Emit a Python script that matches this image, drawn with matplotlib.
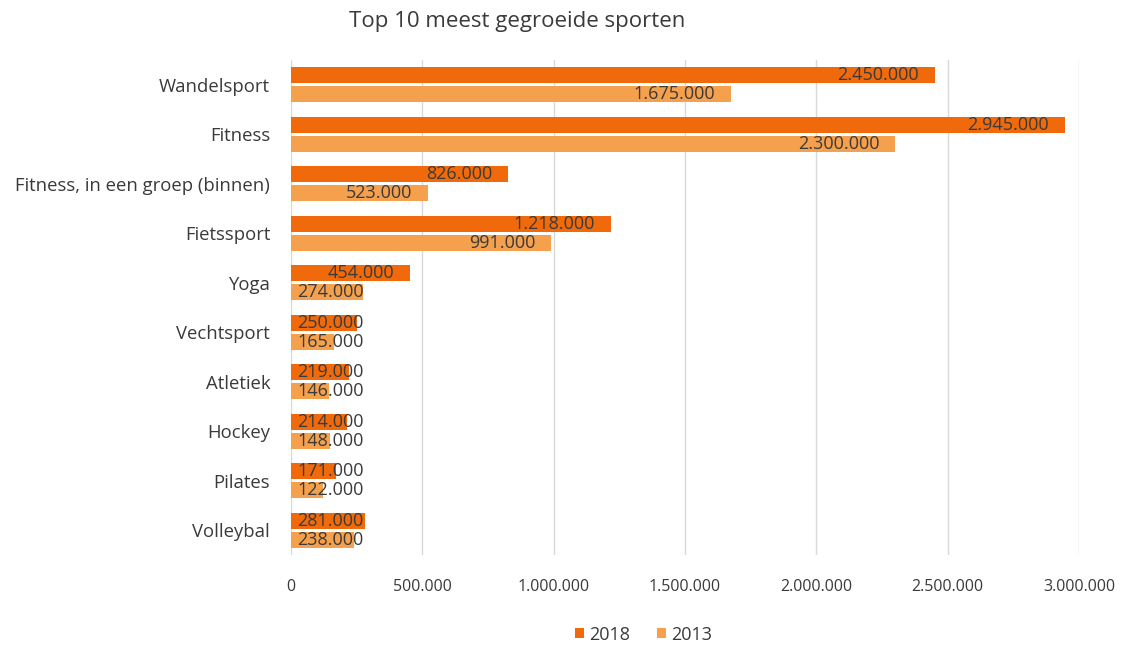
import matplotlib.pyplot as plt
import numpy as np

categories = ["Wandelsport", "Fitness", "Fitness, in een groep (binnen)", "Fietssport",
              "Yoga", "Vechtsport", "Atletiek", "Hockey", "Pilates", "Volleybal"]
v2018 = [2450000, 2945000, 826000, 1218000, 454000, 250000, 219000, 214000, 171000, 281000]
v2013 = [1675000, 2300000, 523000, 991000, 274000, 165000, 146000, 148000, 122000, 238000]
xticks = [0, 500000, 1000000, 1500000, 2000000, 2500000, 3000000]

c2018 = "#F06A0C"
c2013 = "#F5A04C"
txt = "#3A3A3A"
font = "Open Sans"


def fmt(v):
    return f"{v:,}".replace(",", ".")


fig = plt.figure(figsize=(11.25, 6.45), dpi=100)
ax = fig.add_axes([0.2587, 0.1395, 0.7004, 0.7675])

y = np.arange(len(categories))
h = 0.32
ax.barh(y - 0.19, v2018, height=h, color=c2018, label="2018", zorder=2)
ax.barh(y + 0.19, v2013, height=h, color=c2013, label="2013", zorder=2)

ax.set_xlim(0, 3000000)
ax.set_ylim(len(categories) - 0.5, -0.5)
ax.set_xticks(xticks)
ax.set_xticklabels([fmt(t) for t in xticks], fontsize=11.5, color=txt, family=font)
ax.set_yticks(y)
ax.set_yticklabels(categories, fontsize=13.3, color=txt, family=font)
ax.tick_params(axis="x", length=0, pad=17)
ax.tick_params(axis="y", length=0, pad=15)
ax.grid(axis="x", color="#D9D9D9", linewidth=1, zorder=0)
for s in ax.spines.values():
    s.set_visible(False)

# data labels: inside end, pushed right if they do not fit
fig.canvas.draw()
r = fig.canvas.get_renderer()
px_per_unit = ax.transData.transform((1, 0))[0] - ax.transData.transform((0, 0))[0]
pad = 16 / px_per_unit
for vals, off in ((v2018, -0.19), (v2013, 0.19)):
    for i, v in enumerate(vals):
        t = ax.text(v - pad, i + off, fmt(v), ha="right", va="center",
                    fontsize=13, color=txt, family=font, zorder=3)
        w = t.get_window_extent(renderer=r).width / px_per_unit
        if v - pad - w < 6 / px_per_unit:
            t.set_x(6 / px_per_unit)
            t.set_ha("left")

fig.text(0.46, 0.966, "Top 10 meest gegroeide sporten", ha="center", va="center",
         fontsize=16, color=txt, family=font)
fig.legend(loc="center", bbox_to_anchor=(0.572, 0.016), ncol=2, frameon=False,
           prop={"family": font, "size": 13}, handlelength=0.5, handleheight=0.5,
           columnspacing=1.5, handletextpad=0.3, labelcolor=txt)

fig.savefig("out.png", dpi=100)
